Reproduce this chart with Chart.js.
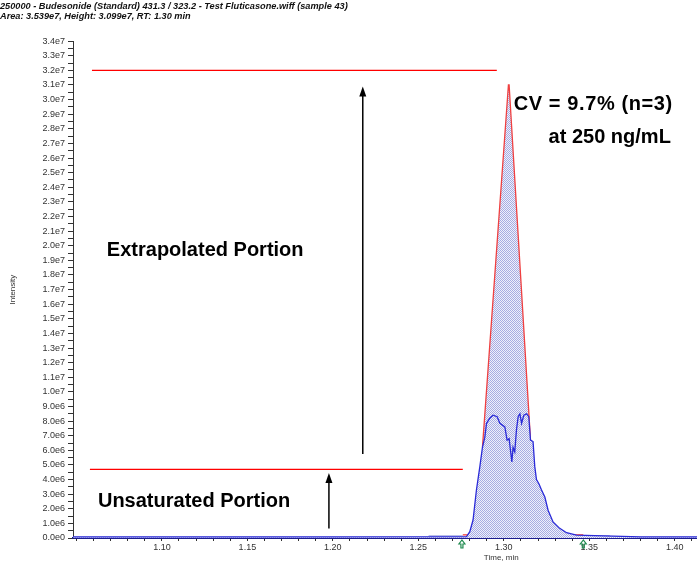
<!doctype html>
<html lang="en">
<head>
  <meta charset="utf-8">
  <title>Budesonide peak</title>
  <script src="https://cdn.jsdelivr.net/npm/chart.js@4.4.1/dist/chart.umd.min.js"></script>
  <style>
    html, body { margin: 0; padding: 0; background: #fff; }
    #wrap { width: 697px; height: 561px; }
  </style>
</head>
<body>
  <div id="wrap"><canvas id="chart"></canvas></div>
  <script>
    // measured trace (time in min, intensity in cps)
    const blueTime = [1.048, 1.20, 1.2782, 1.2801, 1.2820, 1.2840, 1.2860, 1.2875, 1.2889, 1.2899, 1.2918, 1.2937,
      1.2961, 1.2977, 1.3006, 1.3019, 1.3031, 1.3039, 1.3047, 1.3054, 1.3064, 1.3074, 1.3084, 1.3094, 1.3104,
      1.3117, 1.3133, 1.3146, 1.3156, 1.3171, 1.3181, 1.3191, 1.3206, 1.3220, 1.3240, 1.3259, 1.3288, 1.3327,
      1.3367, 1.3425, 1.38, 1.413];
    const blueIntensity = [0.08e6, 0.08e6, 0.1e6, 0.43e6, 1.23e6, 3.3e6, 4.9e6, 6.2e6, 6.9e6, 7.85e6, 8.2e6, 8.4e6,
      8.3e6, 7.85e6, 7.6e6, 6.7e6, 6.8e6, 6.0e6, 5.2e6, 6.2e6, 5.9e6, 7.4e6, 8.3e6, 8.5e6, 7.85e6,
      8.4e6, 8.5e6, 8.3e6, 6.7e6, 6.6e6, 4.9e6, 4.0e6, 3.7e6, 3.3e6, 2.8e6, 1.9e6, 1.1e6, 0.66e6,
      0.36e6, 0.2e6, 0.08e6, 0.08e6];

    // extrapolated (saturated) peak outline
    const redTime = [1.2875, 1.3027, 1.3031, 1.3156];
    const redIntensity = [6.2e6, 31.0e6, 31.0e6, 6.7e6];

    // integration baseline and the two markers
    const baseTime = [1.2760, 1.3465];
    const baseIntensity = [0.22e6, 0.22e6];
    const noiseTime = [1.256, 1.276, 1.300, 1.347, 1.362];
    const noiseIntensity = [0.1e6, 0.1e6, null, 0.1e6, 0.1e6];

    // annotation levels
    const topLevel = { from: 1.0591, to: 1.2959, y: 3.2e7 };
    const lowLevel = { from: 1.0579, to: 1.2760, y: 4.7e6 };
    const arrows = [
      { x: 1.2175, from: 5.75e6, to: 30.9e6 },
      { x: 1.1977, from: 0.65e6, to: 4.45e6 }
    ];
    const markers = [1.2755, 1.3465];
    const notes = [
      { text: 'Extrapolated Portion', x: 1.0678, y: 19.7e6, spacing: '0px' },
      { text: 'Unsaturated Portion', x: 1.0626, y: 2.5e6, spacing: '0px' },
      { text: 'CV = 9.7% (n=3)', x: 1.3058, y: 29.7e6, spacing: '0.6px' },
      { text: 'at 250 ng/mL', x: 1.3262, y: 27.4e6, spacing: '0px' }
    ];

    const xTickLabels = ['1.10', '1.15', '1.20', '1.25', '1.30', '1.35', '1.40'];

    function pts(xs, ys) {
      return xs.map((x, i) => ({ x: x, y: ys[i] }));
    }

    function sci(v) {
      if (v === 0) return '0.0e0';
      let e = Math.floor(Math.log10(v) + 1e-9);
      return (v / Math.pow(10, e)).toFixed(1) + 'e' + e;
    }

    // dotted fill like the instrument software
    let pc = document.createElement('canvas');
    pc.width = 2; pc.height = 2;
    let pctx = pc.getContext('2d');
    pctx.fillStyle = '#eff0fb';
    pctx.fillRect(0, 0, 2, 2);
    pctx.fillStyle = '#a7ace2';
    pctx.fillRect(0, 0, 1, 1);
    pctx.fillRect(1, 1, 1, 1);
    let dots = pctx.createPattern(pc, 'repeat');

    let notesPlugin = {
      id: 'notes',
      afterDatasetsDraw(chart) {
        let c = chart.ctx, xs = chart.scales.x, ys = chart.scales.y;
        c.save();
        // arrows
        c.strokeStyle = '#000';
        c.fillStyle = '#000';
        c.lineWidth = 1.5;
        arrows.forEach(a => {
          let px = xs.getPixelForValue(a.x);
          let y1 = ys.getPixelForValue(a.from), y2 = ys.getPixelForValue(a.to);
          c.beginPath();
          c.moveTo(px, y1);
          c.lineTo(px, y2 + 8);
          c.stroke();
          c.beginPath();
          c.moveTo(px, y2);
          c.lineTo(px - 3.5, y2 + 10);
          c.lineTo(px + 3.5, y2 + 10);
          c.closePath();
          c.fill();
        });
        // labels
        c.font = 'bold 20px "Liberation Sans", Arial, sans-serif';
        c.textBaseline = 'middle';
        c.textAlign = 'left';
        notes.forEach(n => {
          c.letterSpacing = n.spacing;
          c.fillText(n.text, xs.getPixelForValue(n.x), ys.getPixelForValue(n.y));
        });
        c.letterSpacing = '0px';
        // peak markers under the axis
        c.strokeStyle = '#1e8a4e';
        c.lineWidth = 1.2;
        markers.forEach(m => {
          let px = xs.getPixelForValue(m), py = chart.chartArea.bottom + 2;
          c.beginPath();
          c.moveTo(px, py);
          c.lineTo(px - 3, py + 4);
          c.lineTo(px - 1, py + 4);
          c.lineTo(px - 1, py + 8);
          c.lineTo(px + 1, py + 8);
          c.lineTo(px + 1, py + 4);
          c.lineTo(px + 3, py + 4);
          c.closePath();
          c.stroke();
        });
        // x title
        c.fillStyle = '#333';
        c.font = '8px "Liberation Sans", Arial, sans-serif';
        c.textAlign = 'center';
        c.fillText('Time, min', xs.getPixelForValue(1.2985), chart.chartArea.bottom + 20);
        c.restore();
      }
    };

    let ctx = document.getElementById('chart');
    let chart = new Chart(ctx, {
      type: 'line',
      data: {
        datasets: [
          {
            label: 'XIC',
            data: pts(blueTime, blueIntensity),
            borderColor: '#2a2ad8',
            borderWidth: 1.3,
            backgroundColor: dots,
            fill: 'origin',
            pointRadius: 0
          },
          {
            label: 'Integration baseline',
            data: pts(baseTime, baseIntensity),
            borderColor: '#f03030',
            borderWidth: 1.2,
            fill: false,
            pointRadius: 0
          },
          {
            label: 'Extrapolated',
            data: pts(redTime, redIntensity),
            borderColor: '#f04040',
            borderWidth: 1.3,
            backgroundColor: dots,
            fill: 'origin',
            pointRadius: 0
          },
          {
            label: 'Noise',
            data: pts(noiseTime, noiseIntensity),
            borderColor: '#b8bce8',
            borderWidth: 3,
            fill: false,
            spanGaps: false,
            pointRadius: 0
          },
          {
            label: 'Saturation level',
            data: [{ x: topLevel.from, y: topLevel.y }, { x: topLevel.to, y: topLevel.y }],
            borderColor: '#ff0000',
            borderWidth: 1.3,
            fill: false,
            pointRadius: 0
          },
          {
            label: 'Unsaturated level',
            data: [{ x: lowLevel.from, y: lowLevel.y }, { x: lowLevel.to, y: lowLevel.y }],
            borderColor: '#ff0000',
            borderWidth: 1.3,
            fill: false,
            pointRadius: 0
          }
        ]
      },
      options: {
        responsive: true,
        maintainAspectRatio: false,
        animation: false,
        layout: { padding: { right: 0, left: 0, bottom: 0 } },
        plugins: {
          legend: { display: false },
          tooltip: { enabled: false },
          title: {
            display: true,
            align: 'start',
            color: '#111',
            text: [
              '250000 - Budesonide (Standard) 431.3 / 323.2 - Test Fluticasone.wiff (sample 43)',
              'Area: 3.539e7, Height: 3.099e7, RT: 1.30 min'
            ],
            font: { family: '"Liberation Sans", Arial, sans-serif', size: 9.2, weight: 'bold', style: 'italic', lineHeight: 1.15 },
            padding: { top: 1, bottom: 19 }
          }
        },
        scales: {
          x: {
            type: 'linear',
            min: 1.048,
            max: 1.413,
            afterFit(scale) { scale.height = 23; },
            border: { color: '#1c1c8e', width: 2 },
            grid: { drawOnChartArea: false, tickLength: 3, color: '#333' },
            ticks: {
              stepSize: 0.01,
              includeBounds: false,
              autoSkip: false,
              maxRotation: 0,
              padding: 1,
              color: '#333',
              font: { family: '"Liberation Sans", Arial, sans-serif', size: 9 },
              callback: v => {
                let s = v.toFixed(2);
                return xTickLabels.includes(s) ? s : '';
              }
            }
          },
          y: {
            min: 0,
            max: 3.4e7,
            afterFit(scale) { scale.width = 73; },
            border: { color: '#333', width: 1 },
            grid: { drawOnChartArea: false, tickLength: 5, color: '#333' },
            title: {
              display: true,
              text: 'Intensity',
              color: '#333',
              font: { family: '"Liberation Sans", Arial, sans-serif', size: 8 },
              padding: { top: 8, bottom: 0 }
            },
            ticks: {
              stepSize: 5e5,
              autoSkip: false,
              padding: 3,
              color: '#333',
              font: { family: '"Liberation Sans", Arial, sans-serif', size: 9 },
              callback: v => (Math.round(v) % 1e6 === 0 ? sci(v) : '')
            }
          }
        }
      },
      plugins: [notesPlugin]
    });
  </script>
</body>
</html>
